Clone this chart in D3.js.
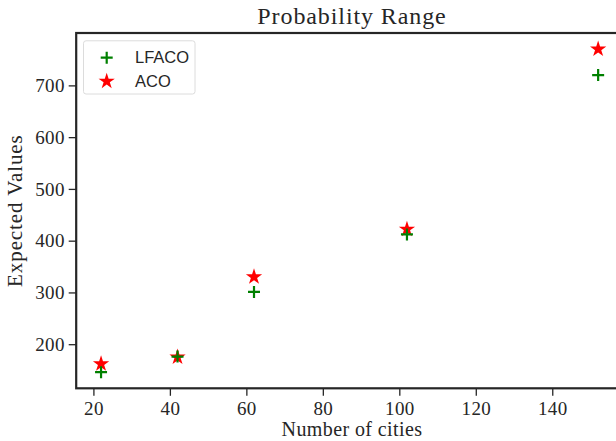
<!DOCTYPE html>
<html>
<head>
<meta charset="utf-8">
<script src="https://cdn.jsdelivr.net/npm/d3@7"></script>
<style>
    html, body { margin: 0; padding: 0; background: #fff; overflow: hidden; }
    svg { display: block; }
</style>
</head>
<body>
<div id="chart"></div>
<script>
// number of cities on x, expected value for each algorithm
var cities = [22, 42, 62, 102, 152];
var lfacoValues = [146, 176, 301, 412, 720];
var acoValues = [162, 175, 330, 422, 770];

var seriesNames = ['LFACO', 'ACO'];
var xTicks = [20, 40, 60, 80, 100, 120, 140];
var yTicks = [200, 300, 400, 500, 600, 700];

(function () {
    'use strict';

    var W = 616, H = 441;
    var frame = { left: 76.2, top: 33, right: 623, bottom: 388.3 };
    var ink = '#262626';
    var serif = '"Liberation Serif", "Times New Roman", serif';
    var sans = '"Liberation Sans", Arial, sans-serif';

    var svg = d3.select('#chart').append('svg')
        .attr('width', W)
        .attr('height', H);

    // matplotlib style 5% padding round the data
    function padded(values) {
        var ext = d3.extent(values);
        var m = (ext[1] - ext[0]) * 0.05;
        return [ext[0] - m, ext[1] + m];
    }

    var x = d3.scaleLinear()
        .domain(padded(cities))
        .range([frame.left, frame.right]);

    var y = d3.scaleLinear()
        .domain(padded(lfacoValues.concat(acoValues)))
        .range([frame.bottom, frame.top]);

    var tickLen = 7.5;

    var gx = svg.append('g')
        .attr('transform', 'translate(0,' + frame.bottom + ')')
        .call(d3.axisBottom(x).tickValues(xTicks).tickSize(tickLen).tickPadding(5.3));

    var gy = svg.append('g')
        .attr('transform', 'translate(' + frame.left + ',0)')
        .call(d3.axisLeft(y).tickValues(yTicks).tickSize(tickLen).tickPadding(4));

    [gx, gy].forEach(function (g) {
        g.select('.domain').remove();
        g.selectAll('.tick line').attr('stroke', ink).attr('stroke-width', 1.3);
        g.selectAll('.tick text')
            .attr('fill', ink)
            .style('font-family', serif)
            .style('font-size', '19px')
            .style('letter-spacing', '0.3px');
    });

    // spines (right one falls outside the picture)
    svg.append('rect')
        .attr('x', frame.left)
        .attr('y', frame.top)
        .attr('width', frame.right - frame.left)
        .attr('height', frame.bottom - frame.top)
        .attr('fill', 'none')
        .attr('stroke', ink)
        .attr('stroke-width', 2.2);

    var starPath = d3.symbol().type(d3.symbolStar).size(82)();
    var plusPath = 'M-6,0H6M0,-6V6';

    function drawStar(sel) {
        sel.attr('d', starPath).attr('fill', '#ff0000').attr('stroke', 'none');
    }
    function drawPlus(sel) {
        sel.attr('d', plusPath).attr('fill', 'none').attr('stroke', '#008000').attr('stroke-width', 2.2);
    }

    var marks = svg.append('g');

    marks.selectAll('path.aco')
        .data(cities)
        .enter().append('path')
        .attr('class', 'aco')
        .attr('transform', function (d, i) {
            return 'translate(' + x(d) + ',' + y(acoValues[i]) + ')';
        })
        .call(drawStar);

    marks.selectAll('path.lfaco')
        .data(cities)
        .enter().append('path')
        .attr('class', 'lfaco')
        .attr('transform', function (d, i) {
            return 'translate(' + x(d) + ',' + y(lfacoValues[i]) + ')';
        })
        .call(drawPlus);

    // legend
    var legend = svg.append('g');
    legend.append('rect')
        .attr('x', 83.5)
        .attr('y', 40.8)
        .attr('width', 111.5)
        .attr('height', 53.2)
        .attr('rx', 2.5)
        .attr('fill', '#fff')
        .attr('stroke', '#dcdcdc')
        .attr('stroke-width', 1);

    var rows = legend.selectAll('g.row')
        .data(seriesNames)
        .enter().append('g')
        .attr('class', 'row')
        .attr('transform', function (d, i) { return 'translate(0,' + (57.7 + i * 23.6) + ')'; });

    rows.append('path')
        .attr('transform', 'translate(106.7,0)')
        .each(function (d, i) {
            d3.select(this).call(i === 0 ? drawPlus : drawStar);
        });

    rows.append('text')
        .attr('x', 135)
        .attr('y', 5.2)
        .attr('fill', ink)
        .style('font-family', sans)
        .style('font-size', '16.5px')
        .text(function (d) { return d; });

    // titles
    svg.append('text')
        .attr('x', 352)
        .attr('y', 24)
        .attr('text-anchor', 'middle')
        .attr('fill', ink)
        .style('font-family', serif)
        .style('font-size', '24px')
        .style('letter-spacing', '0.9px')
        .text('Probability Range');

    svg.append('text')
        .attr('x', 352)
        .attr('y', 436)
        .attr('text-anchor', 'middle')
        .attr('fill', ink)
        .style('font-family', serif)
        .style('font-size', '20px')
        .style('letter-spacing', '0.4px')
        .text('Number of cities');

    svg.append('text')
        .attr('transform', 'translate(21.5,' + ((frame.top + frame.bottom) / 2) + ') rotate(-90)')
        .attr('text-anchor', 'middle')
        .attr('fill', ink)
        .style('font-family', serif)
        .style('font-size', '21px')
        .style('letter-spacing', '0.9px')
        .text('Expected Values');
}());
</script>
</body>
</html>
